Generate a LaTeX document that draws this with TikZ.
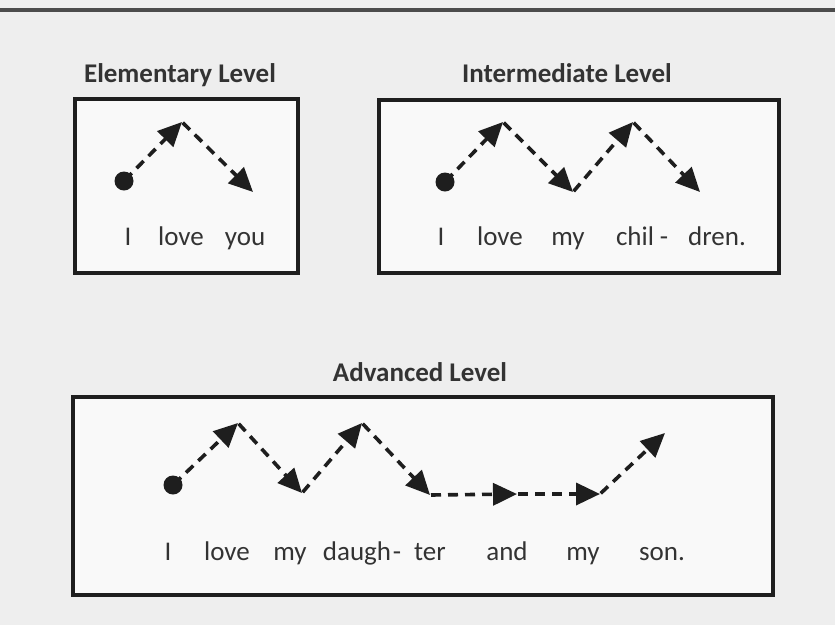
\documentclass[tikz,border=0pt]{standalone}
\usepackage{fontspec}
\setmainfont{Carlito}
\usetikzlibrary{arrows.meta}
\definecolor{bgc}{HTML}{EEEEEE}
\definecolor{boxfill}{HTML}{F9F9F9}
\definecolor{ink}{HTML}{1E1E1E}
\definecolor{titlec}{HTML}{333333}
\tikzset{
  panel/.style={draw=ink, line width=3.2pt, fill=boxfill},
  title/.style={font=\fontsize{27}{31}\selectfont\bfseries, text=titlec, anchor=base},
  word/.style={font=\fontsize{27}{31}\selectfont, text=titlec, anchor=base},
  flow/.style={draw=ink, line width=3.6pt, dash pattern=on 10pt off 7pt,
    -{Triangle[length=24pt,width=22pt]}, shorten <=1pt},
  startdot/.style={circle, fill=ink, minimum size=19pt, inner sep=0pt},
}
\begin{document}
\begin{tikzpicture}[x=1pt,y=-1pt]
\useasboundingbox (0,0) rectangle (835,625);
\fill[bgc] (0,0) rectangle (835,625);
\draw[line width=3.5pt, draw=black!70] (0,10) -- (835,10);

% panels
\draw[panel] (75,99) rectangle (298,273);
\draw[panel] (379,100) rectangle (779,273);
\draw[panel] (73,397) rectangle (773,595);

% titles
\node[title] (t1) at (180,82) {Elementary Level};
\node[title] (t2) at (567,82) {Intermediate Level};
\node[title] (t3) at (420,381) {Advanced Level};

% Elementary
\node[startdot] (ed) at (124,181) {};
\coordinate (ea) at (182,122);
\coordinate (ee) at (253,192);
\draw[flow] (ed.center) -- (ea);
\draw[flow] (ea) -- (ee);
\node[word] (ew1) at (128,245) {I};
\node[word] (ew2) at (181,245) {love};
\node[word] (ew3) at (245,245) {you};

% Intermediate
\node[startdot] (id) at (445,182) {};
\coordinate (ia1) at (503,122);
\coordinate (iv1) at (573,192);
\coordinate (ia2) at (633,122);
\coordinate (ie) at (700,192);
\draw[flow] (id.center) -- (ia1);
\draw[flow] (ia1) -- (iv1);
\draw[flow] (iv1) -- (ia2);
\draw[flow] (ia2) -- (ie);
\node[word] (iw1) at (441,245) {I};
\node[word] (iw2) at (500,245) {love};
\node[word] (iw3) at (568,245) {my};
\node[word] (iw4) at (635,245) {chil};
\node[word] (iw5) at (664,245) {-};
\node[word] (iw6) at (717,245) {dren.};

% Advanced
\node[startdot] (ad) at (173,485) {};
\coordinate (aa1) at (238,423);
\coordinate (av1) at (302,493);
\coordinate (aa2) at (362,423);
\coordinate (av2) at (430,495);
\coordinate (ah1) at (517,494);
\coordinate (ah2) at (600,494);
\coordinate (aa3) at (665,433);
\draw[flow] (ad.center) -- (aa1);
\draw[flow] (aa1) -- (av1);
\draw[flow] (av1) -- (aa2);
\draw[flow] (aa2) -- (av2);
\draw[flow] (av2) -- (ah1);
\draw[flow] (ah1) -- (ah2);
\draw[flow] (ah2) -- (aa3);
\node[word] (aw1) at (168,560) {I};
\node[word] (aw2) at (227,560) {love};
\node[word] (aw3) at (290,560) {my};
\node[word] (aw4) at (357,560) {daugh};
\node[word] (aw5) at (397,560) {-};
\node[word] (aw6) at (430,560) {ter};
\node[word] (aw7) at (507,560) {and};
\node[word] (aw8) at (583,560) {my};
\node[word] (aw9) at (662,560) {son.};
\end{tikzpicture}
\end{document}
